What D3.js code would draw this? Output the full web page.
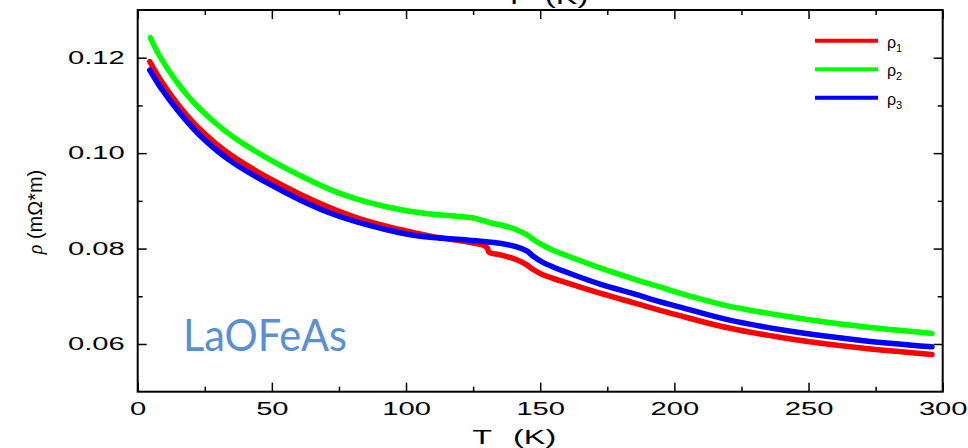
<!DOCTYPE html>
<html><head><meta charset="utf-8">
<script src="https://cdn.jsdelivr.net/npm/d3@7"></script>
<style>
html,body{margin:0;padding:0;background:#fff;}
svg{display:block;}
</style></head>
<body>
<svg id="chart" width="968" height="448"></svg>
<script>
// ---- data (T in K, rho in mOhm*m) ----
const seriesNames = ["ρ1", "ρ2", "ρ3"];
const seriesColors = ["#ff0000", "#00ff00", "#0000ff"];

const rho1 = [
  [4.5,0.1192],[6,0.1177],[8,0.1158],[10,0.1141],[12.2,0.1123],[15,0.1102],[18.4,0.1079],
  [23.2,0.1050],[29.6,0.1018],[35.6,0.0993],[48.1,0.0950],[60.5,0.0914],[72.9,0.0883],
  [85.3,0.0858],[97.7,0.0840],[104,0.0832],[110,0.0825],[122.6,0.0814],[128.8,0.0807],
  [130.3,0.0801],[131,0.0792],[135,0.0787],[141,0.0777],[145,0.0766],[147.4,0.0756],
  [151,0.0745],[155,0.0737],[160,0.0728],[172,0.0707],[185,0.0686],[195,0.0670],
  [201,0.0661],[219,0.0635],[244,0.0610],[269,0.0592],[296,0.0578]
];
const rho2 = [
  [4.7,0.1242],[6.5,0.1221],[9,0.1196],[12.2,0.1168],[15,0.1146],[18.4,0.1122],
  [23.2,0.1093],[29.6,0.1060],[35.6,0.1034],[48.1,0.0990],[60.5,0.0953],[72.9,0.0921],
  [85.3,0.0898],[97.7,0.0882],[104,0.0876],[110,0.0872],[122,0.0866],[126,0.0863],
  [129,0.0858],[132,0.0853],[135,0.0850],[141,0.0840],[145,0.0829],[148,0.0817],
  [151,0.0807],[155,0.0796],[160,0.0785],[172,0.0760],[185,0.0736],[195,0.0719],
  [201,0.0708],[219,0.0681],[244,0.0656],[269,0.0637],[296,0.0622]
];
const rho3 = [
  [4.5,0.1174],[6,0.1160],[8,0.1142],[10,0.1126],[12.2,0.1109],[15,0.1089],[18.4,0.1066],
  [23.2,0.1037],[29.6,0.1005],[35.6,0.0980],[48.1,0.0938],[60.5,0.0902],[72.9,0.0872],
  [85.3,0.0850],[97.7,0.0833],[104,0.0827],[110,0.0823],[122.6,0.0818],[128.8,0.0815],
  [135,0.0811],[141,0.0804],[145,0.0795],[147.4,0.0784],[151,0.0771],[155,0.0761],
  [160,0.0750],[172,0.0726],[185,0.0705],[195,0.0688],[201,0.0679],[219,0.0652],
  [244,0.0626],[269,0.0608],[296,0.0594]
];
const allSeries = [rho1, rho2, rho3];

const xMajorTicks = [0, 50, 100, 150, 200, 250, 300];
const xMinorTicks = [25, 75, 125, 175, 225, 275];
const yMajorTicks = [0.06, 0.08, 0.10, 0.12];
const yMinorTicks = [0.07, 0.09, 0.11];
const xDomain = [0, 300];
const yDomain = [0.05, 0.13];
const sampleLabel = "LaOFeAs";

// ---- layout ----
const L = 137.7, R = 942.7, T = 10, B = 391.7;
const svg = d3.select("#chart");
const x = d3.scaleLinear().domain(xDomain).range([L, R]);
const y = d3.scaleLinear().domain(yDomain).range([B, T]);
const SX = 1.62; // horizontal stretch of axis fonts
const font = "'Liberation Sans', Arial, sans-serif";

// curves
const line = d3.line().x(d => x(d[0])).y(d => y(d[1])).curve(d3.curveCatmullRom.alpha(0.5));
allSeries.forEach((s, i) => {
  svg.append("path").datum(s).attr("d", line)
    .attr("fill", "none").attr("stroke", seriesColors[i])
    .attr("stroke-width", 5.5).attr("stroke-linecap", "round").attr("stroke-linejoin", "round");
});

// axes
function styleAxis(g) {
  g.select(".domain").remove();
  g.selectAll(".tick line").attr("stroke", "#000").attr("stroke-width", 1.5);
}
const gx = svg.append("g").attr("transform", `translate(0,${B})`)
  .call(d3.axisBottom(x).tickValues(xMajorTicks).tickSize(-9).tickPadding(11).tickFormat(d3.format("d")));
styleAxis(gx);
gx.selectAll("text").attr("font-family", font).attr("font-size", 18).attr("fill", "#000")
  .attr("transform", `scale(${SX},1)`);
const gxm = svg.append("g").attr("transform", `translate(0,${B})`)
  .call(d3.axisBottom(x).tickValues(xMinorTicks).tickSize(-5).tickFormat(""));
styleAxis(gxm);

const gt = svg.append("g").attr("transform", `translate(0,${T})`)
  .call(d3.axisTop(x).tickValues(xMajorTicks).tickSize(-9).tickFormat(""));
styleAxis(gt);
const gtm = svg.append("g").attr("transform", `translate(0,${T})`)
  .call(d3.axisTop(x).tickValues(xMinorTicks).tickSize(-5).tickFormat(""));
styleAxis(gtm);

const gy = svg.append("g").attr("transform", `translate(${L},0)`)
  .call(d3.axisLeft(y).tickValues(yMajorTicks).tickSize(-9).tickPadding(13).tickFormat(d3.format(".2f")));
styleAxis(gy);
gy.selectAll("text").attr("font-family", font).attr("font-size", 18).attr("fill", "#000")
  .attr("x", -13 / SX).attr("transform", `scale(${SX},1)`);
const gym = svg.append("g").attr("transform", `translate(${L},0)`)
  .call(d3.axisLeft(y).tickValues(yMinorTicks).tickSize(-5).tickFormat(""));
styleAxis(gym);

const gr = svg.append("g").attr("transform", `translate(${R},0)`)
  .call(d3.axisRight(y).tickValues(yMajorTicks).tickSize(-9).tickFormat(""));
styleAxis(gr);
const grm = svg.append("g").attr("transform", `translate(${R},0)`)
  .call(d3.axisRight(y).tickValues(yMinorTicks).tickSize(-5).tickFormat(""));
styleAxis(grm);

// frame
svg.append("rect").attr("x", L).attr("y", T).attr("width", R - L).attr("height", B - T)
  .attr("fill", "none").attr("stroke", "#000").attr("stroke-width", 2);

// axis titles (bottom, and the top one that is cut off by the page edge as in the reference)
function axisTitle(cx, baseline) {
  const g = svg.append("g").attr("transform", `translate(${cx},${baseline}) scale(${SX},1)`);
  g.append("text").attr("x", -8).attr("text-anchor", "end").attr("font-family", font)
    .attr("font-size", 20).attr("fill", "#000").text("T");
  g.append("text").attr("x", 5).attr("text-anchor", "start").attr("font-family", font)
    .attr("font-size", 20).attr("fill", "#000").text("(K)");
}
axisTitle(505, 444);
axisTitle(537, 4);

// y title
const yt = svg.append("text").attr("transform", `translate(42,212) rotate(-90)`)
  .attr("text-anchor", "middle").attr("font-family", font).attr("font-size", 20).attr("fill", "#000");
yt.append("tspan").attr("font-family", "'Liberation Serif', serif").attr("font-style", "italic").text("ρ");
yt.append("tspan").text(" (mΩ*m)");

// legend
const legY = [40.7, 69.3, 97.7];
seriesNames.forEach((n, i) => {
  svg.append("line").attr("x1", 815).attr("x2", 878).attr("y1", legY[i]).attr("y2", legY[i])
    .attr("stroke", seriesColors[i]).attr("stroke-width", 4);
  const t = svg.append("text").attr("x", 887).attr("y", legY[i] + 7)
    .attr("font-family", font).attr("font-size", 16).attr("fill", "#000");
  t.append("tspan").text(n.charAt(0));
  t.append("tspan").attr("font-size", 11).attr("dy", 4).text(n.slice(1));
});

// sample label
svg.append("text").attr("x", 183).attr("y", 351).attr("font-family", "Lato, 'Open Sans', sans-serif")
  .attr("font-size", 44).attr("fill", "#5a8fd5").attr("textLength", 164).attr("lengthAdjust", "spacingAndGlyphs")
  .text(sampleLabel);
</script>
</body></html>
